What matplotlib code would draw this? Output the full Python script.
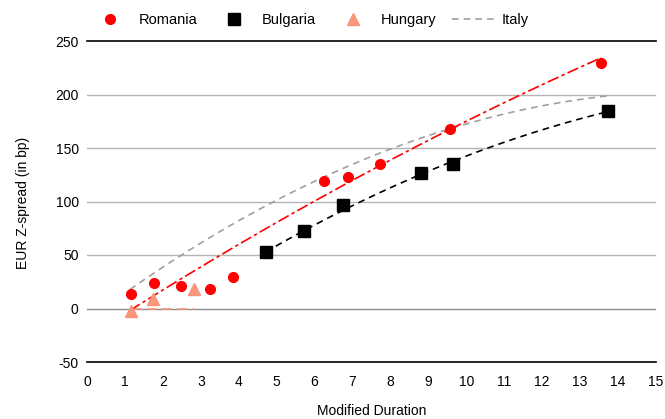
import numpy as np
import matplotlib
matplotlib.use("Agg")
import matplotlib.pyplot as plt
from matplotlib.lines import Line2D

plt.rcParams["font.family"] = ["Liberation Sans", "DejaVu Sans"]
plt.rcParams["axes.unicode_minus"] = False

# Bond observations: modified duration vs EUR Z-spread (bp)
romania_dur = [1.15, 1.77, 2.47, 3.25, 3.84, 6.24, 6.88, 7.73, 9.58, 13.56]
romania_spr = [14, 24, 21, 18, 29, 119, 123, 135, 168, 229]

bulgaria_dur = [4.71, 5.73, 6.76, 8.81, 9.65, 13.74]
bulgaria_spr = [52.5, 72, 97, 127, 135, 185]

hungary_dur = [1.15, 1.73, 2.81]
hungary_spr = [-2, 9, 18.5]

# Fitted curves (duration, spread) along each trend
romania_trend_dur = [1.13, 4.30, 7.73, 9.58, 13.56]
romania_trend_spr = [-1, 64, 135, 168, 234]

bulgaria_trend_dur = [4.71, 6.94, 9.65, 13.6]
bulgaria_trend_spr = [52.5, 96, 137, 183]

hungary_trend_dur = [1.19, 2.81]
hungary_trend_spr = [0, 0]

italy_dur = [1.13, 3.59, 6.94, 9.58, 13.72]
italy_spr = [17.7, 73.7, 134, 168, 198.7]

x_ticks = list(range(0, 16))
y_ticks = [-50, 0, 50, 100, 150, 200, 250]

RED = "#FF0000"
SALMON = "#F7967A"
GREY = "#A0A0A0"


def smooth(xs, ys, deg=2, n=200):
    coef = np.polyfit(xs, ys, deg)
    xx = np.linspace(min(xs), max(xs), n)
    return xx, np.polyval(coef, xx)


fig = plt.figure(figsize=(6.65, 4.19), dpi=100)
ax = fig.add_axes([87 / 665, 1 - 362 / 419, (656 - 87) / 665, (362 - 41) / 419])

# grid
for yv in y_ticks:
    if yv in (-50, 250):
        continue
    ax.axhline(yv, color="#8C8C8C" if yv == 0 else "#B4B4B4", lw=1.0, zorder=0)

# trend curves
xx, yy = smooth(italy_dur, italy_spr)
ax.plot(xx, yy, color=GREY, lw=1.2, dashes=(4, 3), zorder=1)
xx, yy = smooth(romania_trend_dur, romania_trend_spr)
ax.plot(xx, yy, color=RED, lw=1.2, dashes=(7, 2, 2, 2), zorder=2)
xx, yy = smooth(bulgaria_trend_dur, bulgaria_trend_spr)
ax.plot(xx, yy, color="black", lw=1.2, dashes=(4, 3), zorder=2)
ax.plot(hungary_trend_dur, hungary_trend_spr, color=SALMON, lw=1.2, dashes=(6, 3), zorder=1)

# observations
ax.plot(romania_dur, romania_spr, "o", color=RED, ms=7, mec=RED, zorder=4)
ax.plot(bulgaria_dur, bulgaria_spr, "s", color="black", ms=8, zorder=4)
ax.plot(hungary_dur, hungary_spr, "^", color=SALMON, ms=9, mec=SALMON, zorder=3)

ax.set_xlim(0, 15)
ax.set_ylim(-50, 250)
ax.set_xticks(x_ticks)
ax.set_yticks(y_ticks)
ax.tick_params(axis="both", length=0, labelsize=10)
ax.tick_params(axis="y", pad=6)
ax.tick_params(axis="x", pad=9)

for side in ("left", "right"):
    ax.spines[side].set_visible(False)
ax.spines["top"].set_color("black")
ax.spines["bottom"].set_color("black")
ax.spines["top"].set_linewidth(1.2)
ax.spines["bottom"].set_linewidth(1.2)

ax.set_xlabel("Modified Duration", fontsize=10, labelpad=11)
fig.text(23 / 665, 1 - 203 / 419, "EUR Z-spread (in bp)", rotation=90,
         ha="center", va="center", fontsize=10)

handles = [
    Line2D([], [], ls="none", marker="o", color=RED, ms=7),
    Line2D([], [], ls="none", marker="s", color="black", ms=8),
    Line2D([], [], ls="none", marker="^", color=SALMON, ms=9),
    Line2D([], [], color=GREY, lw=1.2, dashes=(4, 3)),
]
labels = ["Romania", "Bulgaria", "Hungary", "Italy"]
fig.legend(handles, labels, ncol=4, loc="center left",
           bbox_to_anchor=(89 / 665, 1 - 20 / 419), frameon=False,
           fontsize=10.5, handlelength=2.9, handletextpad=0.5,
           columnspacing=1.05, borderpad=0, borderaxespad=0)

fig.savefig("out.png", dpi=100)
